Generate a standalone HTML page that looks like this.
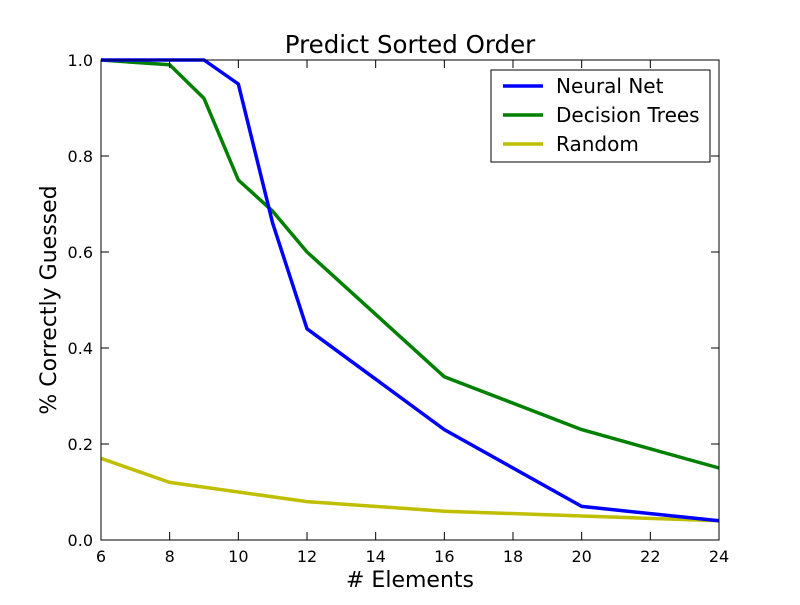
<!DOCTYPE html>
<html><head><meta charset="utf-8"><style>
body{margin:0;background:#fff;}
svg text{font-family:"DejaVu Sans","Liberation Sans",sans-serif;}
</style></head><body>
<svg id="chart" width="800" height="600" viewBox="0 0 800 600" xmlns="http://www.w3.org/2000/svg">
<rect width="800" height="600" fill="#fff"/>
<text x="410" y="53" font-size="24.5" text-anchor="middle">Predict Sorted Order</text>
<g id="marks"></g>
<g id="axes"></g>
<text x="410" y="587" font-size="22" text-anchor="middle"># Elements</text>
<text transform="translate(56,300) rotate(-90)" font-size="22" text-anchor="middle">% Correctly Guessed</text>
<g>
<rect x="491" y="70" width="219" height="92" fill="#fff" stroke="#000" stroke-width="1"/>
<line x1="503" y1="86" x2="543" y2="86" stroke="#0000ff" stroke-width="3.5"/>
<text x="556" y="93" font-size="20">Neural Net</text>
<line x1="503" y1="115" x2="543" y2="115" stroke="#008000" stroke-width="3.5"/>
<text x="556" y="122" font-size="20">Decision Trees</text>
<line x1="503" y1="144" x2="543" y2="144" stroke="#bfbf00" stroke-width="3.5"/>
<text x="556" y="151" font-size="20">Random</text>
</g>
</svg>
<script>
const nnX=[6,8,9,10,11,12,16,20,24];
const nnY=[1,1,1,0.95,0.66,0.44,0.23,0.07,0.04];
const dtX=[6,8,9,10,11,12,16,20,24];
const dtY=[1,0.99,0.92,0.75,0.685,0.6,0.34,0.23,0.15];
const rnX=[6,8,10,12,16,20,24];
const rnY=[0.17,0.12,0.10,0.08,0.06,0.05,0.04];
const xTicks=[6,8,10,12,14,16,18,20,22,24];
const yTicks=[0,0.2,0.4,0.6,0.8,1.0];
const L=101,R=719,T=60,B=540;
const sx=v=>L+(v-6)/(24-6)*(R-L);
const sy=v=>B-v*(B-T);
const NS="http://www.w3.org/2000/svg";
const marks=document.getElementById('marks'),axes=document.getElementById('axes');
function mk(tag,attrs,parent){const e=document.createElementNS(NS,tag);for(const k in attrs)e.setAttribute(k,attrs[k]);parent.appendChild(e);return e;}
function series(xs,ys,color,name){
  const p=mk('polyline',{points:xs.map((x,i)=>sx(x)+','+sy(ys[i])).join(' '),fill:'none',stroke:color,'stroke-width':3.5,'stroke-linejoin':'round'},marks);
  
  
}
series(rnX,rnY,'#bfbf00','random-line');
series(dtX,dtY,'#008000','decision-trees-line');
series(nnX,nnY,'#0000ff','neural-net-line');
const frame=mk('rect',{x:L,y:T,width:R-L,height:B-T,fill:'none',stroke:'#000','stroke-width':1},axes);


xTicks.forEach(t=>{const x=sx(t);
  mk('line',{x1:x,y1:B,x2:x,y2:B-8,stroke:'#000'},axes);
  mk('line',{x1:x,y1:T,x2:x,y2:T+8,stroke:'#000'},axes);
  const tx=mk('text',{x:x,y:B+22,'font-size':16,'text-anchor':'middle'},axes);tx.textContent=t;
  
  
});
yTicks.forEach(t=>{const y=sy(t);
  mk('line',{x1:L,y1:y,x2:L+8,y2:y,stroke:'#000'},axes);
  mk('line',{x1:R,y1:y,x2:R-8,y2:y,stroke:'#000'},axes);
  const tx=mk('text',{x:L-8,y:y+6,'font-size':16,'text-anchor':'end'},axes);tx.textContent=t.toFixed(1);
  
  
});
</script>
</body></html>
